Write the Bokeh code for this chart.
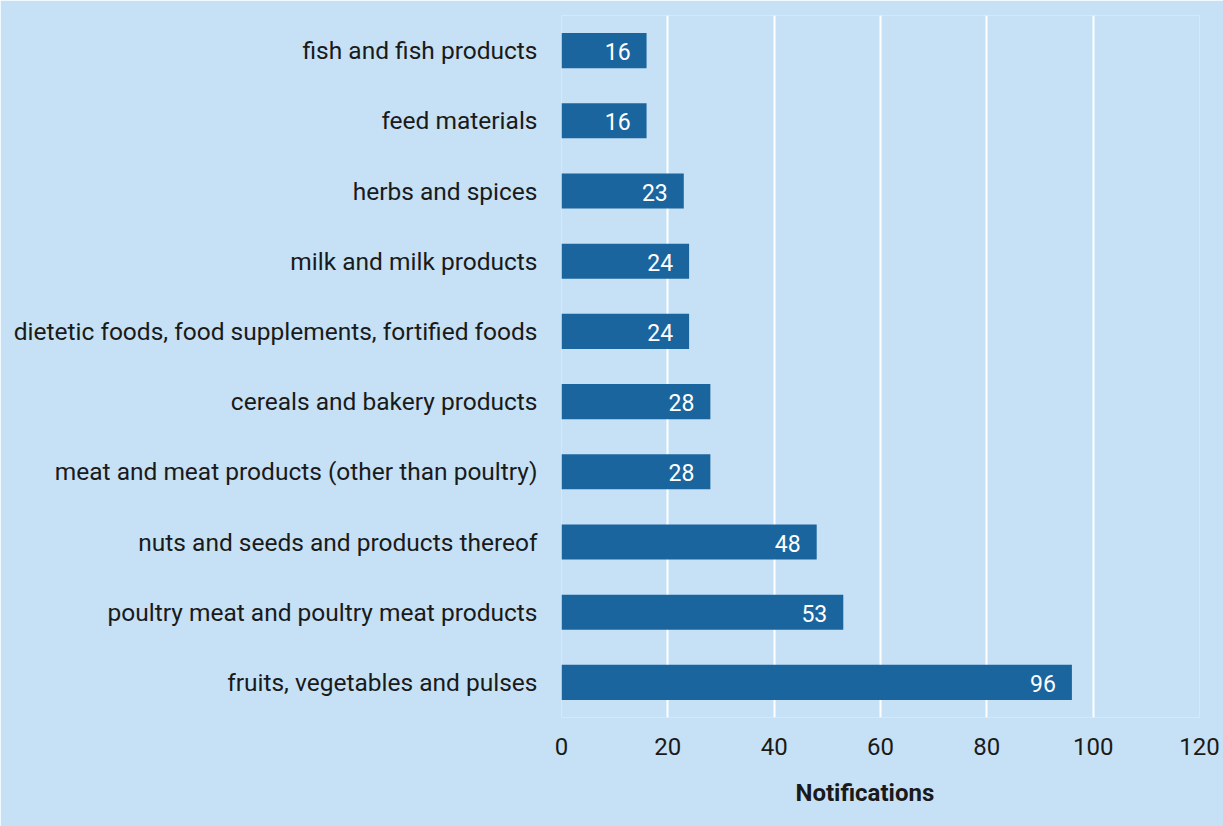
from bokeh.plotting import figure
from bokeh.models import ColumnDataSource, FactorRange, Range1d, LabelSet, Title, FixedTicker
from bokeh.core.properties import value
from bokeh.embed import file_html
from bokeh.resources import INLINE

categories = [
    "fruits, vegetables and pulses",
    "poultry meat and poultry meat products",
    "nuts and seeds and products thereof",
    "meat and meat products (other than poultry)",
    "cereals and bakery products",
    "dietetic foods, food supplements, fortified foods",
    "milk and milk products",
    "herbs and spices",
    "feed materials",
    "fish and fish products",
]
notifications = [96, 53, 48, 28, 28, 24, 24, 23, 16, 16]
x_ticks = [0, 20, 40, 60, 80, 100, 120]
axis_title = "Notifications"

BG = "#c6e1f5"
BAR = "#1b659e"
FONT = "Roboto"

src = ColumnDataSource(dict(cat=categories, val=notifications,
                            lab=[str(v) for v in notifications]))

p = figure(width=1223, height=826, output_backend="svg", toolbar_location=None,
           y_range=FactorRange(factors=categories, range_padding=0),
           x_range=Range1d(0, 120),
           min_border_left=561, min_border_right=24, min_border_top=15, min_border_bottom=109)
p.background_fill_color = BG
p.border_fill_color = BG
p.outline_line_color = None

p.hbar(y="cat", right="val", left=0, height=0.5, source=src,
       fill_color=BAR, line_color=None)

labels = LabelSet(x="val", y="cat", text="lab", source=src, x_offset=-16, y_offset=-1,
                  text_align="right", text_baseline="middle", text_color="white",
                  text_font=value(FONT), text_font_size="23px")
p.add_layout(labels)

p.xgrid.ticker = FixedTicker(ticks=x_ticks)
p.xgrid.grid_line_color = "white"
p.xgrid.grid_line_width = 2
p.ygrid.grid_line_color = None

p.xaxis.ticker = FixedTicker(ticks=x_ticks)
p.xaxis.axis_line_color = None
p.xaxis.major_tick_line_color = None
p.xaxis.minor_tick_line_color = None
p.xaxis.major_label_text_font = FONT
p.xaxis.major_label_text_font_size = "24px"
p.xaxis.major_label_text_color = "#1a1a1a"
p.xaxis.major_label_standoff = 14

p.yaxis.axis_line_color = None
p.yaxis.major_tick_line_color = None
p.yaxis.minor_tick_line_color = None
p.yaxis.major_label_text_font = FONT
p.yaxis.major_label_text_font_size = "24.5px"
p.yaxis.major_label_text_color = "#1a1a1a"
p.yaxis.major_label_standoff = 18

title = Title(text=axis_title, align="left", offset=234, standoff=39,
              text_font=FONT, text_font_size="24px", text_font_style="bold",
              text_color="#1a1a1a")
p.add_layout(title, "below")

html = file_html(p, INLINE)
html = html.replace("<body>", '<body style="margin:0;background:%s;">' % BG, 1)
open("out.html", "w").write(html)
